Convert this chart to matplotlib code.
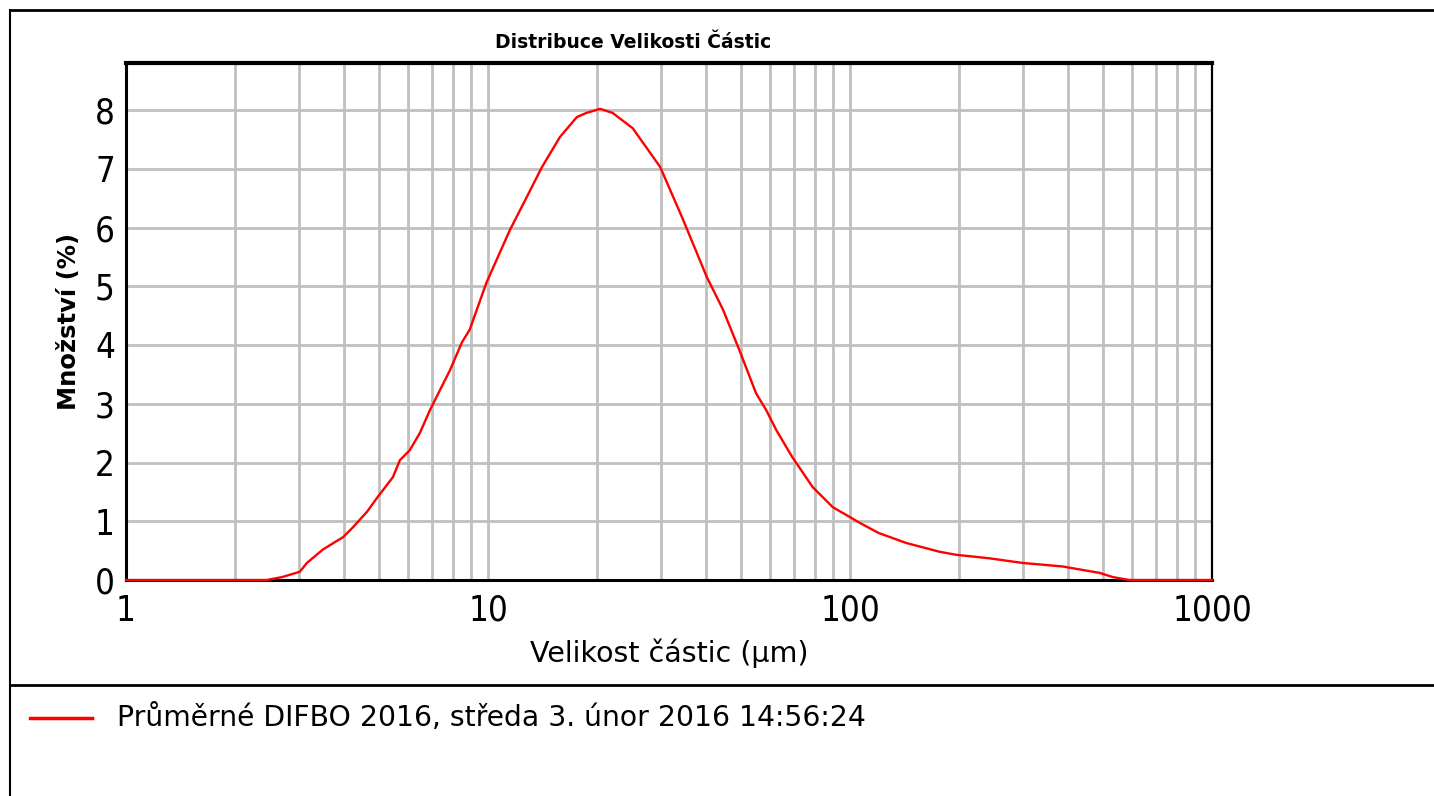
import matplotlib
matplotlib.use("Agg")
import matplotlib.pyplot as plt
from matplotlib.lines import Line2D
from matplotlib.ticker import FixedLocator, LogLocator, NullFormatter

# ---- data ----
size_um = [1.0, 2.0, 2.45, 2.7, 3.02, 3.16, 3.5, 3.98, 4.24, 4.63, 4.94, 5.46, 5.71,
           6.08, 6.48, 6.91, 7.85, 8.48, 8.9, 9.9, 11.5, 12.8, 14.1, 15.8, 17.6,
           18.7, 20.4, 22.1, 25.1, 29.9, 34.6, 40.2, 44.6, 49.5, 55.0, 58.7, 62.6,
           69.3, 78.9, 89.6, 100.0, 106.6, 120.0, 143.0, 177.0, 196.0, 242.0, 300.0,
           387.0, 490.0, 532.0, 590.0, 700.0, 1000.0]
amount_pct = [0.0, 0.0, 0.0, 0.05, 0.14, 0.29, 0.52, 0.73, 0.90, 1.16, 1.40, 1.75, 2.04,
              2.21, 2.50, 2.89, 3.57, 4.05, 4.26, 5.06, 5.96, 6.52, 7.03, 7.54, 7.88,
              7.95, 8.02, 7.95, 7.69, 7.03, 6.13, 5.16, 4.60, 3.91, 3.18, 2.89, 2.55,
              2.09, 1.58, 1.24, 1.07, 0.97, 0.80, 0.63, 0.48, 0.43, 0.37, 0.29,
              0.23, 0.12, 0.05, 0.0, 0.0, 0.0]
x_ticks = [1, 10, 100, 1000]
x_tick_labels = ["1", "10", "100", "1000"]
y_ticks = [0, 1, 2, 3, 4, 5, 6, 7, 8]
series_label = "Průměrné DIFBO 2016, středa 3. únor 2016 14:56:24"
title = "Distribuce Velikosti Částic"
xlabel = "Velikost částic (μm)"
ylabel = "Množství (%)"

W, H = 1434, 796
fig = plt.figure(figsize=(W / 100, H / 100), dpi=100)
fig.patch.set_facecolor("white")

ax = fig.add_axes([126 / W, 1 - 580 / H, (1212 - 126) / W, (580 - 63) / H])
ax.set_xscale("log")
ax.set_xlim(1, 1000)
ax.set_ylim(0, 8.8)

ax.plot(size_um, amount_pct, color="#ff0000", lw=1.7, zorder=5, clip_on=False)

# grid
ax.xaxis.set_major_locator(FixedLocator(x_ticks))
ax.xaxis.set_minor_locator(LogLocator(base=10, subs=range(2, 10)))
ax.xaxis.set_minor_formatter(NullFormatter())
ax.set_xticklabels(x_tick_labels)
ax.set_yticks(y_ticks)
ax.grid(True, which="both", axis="x", color="#c0c0c0", lw=2.0)
ax.grid(True, which="major", axis="y", color="#c0c0c0", lw=2.0)
ax.set_axisbelow(True)
ax.tick_params(which="both", length=0)
ax.tick_params(axis="x", pad=10)
ax.tick_params(axis="y", pad=8)

for lab in ax.get_xticklabels() + ax.get_yticklabels():
    lab.set_fontfamily(["DejaVu Sans"])
    lab.set_fontstretch("condensed")
    lab.set_fontsize(25)

for side, lw in [("top", 3.0), ("left", 2.2), ("bottom", 2.2), ("right", 1.6)]:
    ax.spines[side].set_color("black")
    ax.spines[side].set_linewidth(lw)

ax.set_xlabel(xlabel, fontsize=20.5, family=["DejaVu Sans"], labelpad=8)
ax.set_ylabel(ylabel, fontsize=17.5, fontweight="bold", family=["DejaVu Sans"], labelpad=10)

fig.text(633 / W, 1 - 42 / H, title, ha="center", va="center",
         fontsize=13.5, fontweight="bold", family=["DejaVu Sans"])

# outer frame lines
fig.add_artist(Line2D([10 / W, 1], [1 - 10 / H, 1 - 10 / H], color="black", lw=2))
fig.add_artist(Line2D([10 / W, 10 / W], [0, 1 - 10 / H], color="black", lw=1.5))
fig.add_artist(Line2D([10 / W, 1], [1 - 685 / H, 1 - 685 / H], color="black", lw=2))

# legend entry
fig.add_artist(Line2D([30 / W, 92 / W], [1 - 718 / H, 1 - 718 / H], color="#ff0000", lw=2.5))
fig.text(117 / W, 1 - 718 / H, series_label, ha="left", va="center",
         fontsize=20.3, family=["DejaVu Sans"])

fig.savefig("out.png", dpi=100, facecolor="white")
